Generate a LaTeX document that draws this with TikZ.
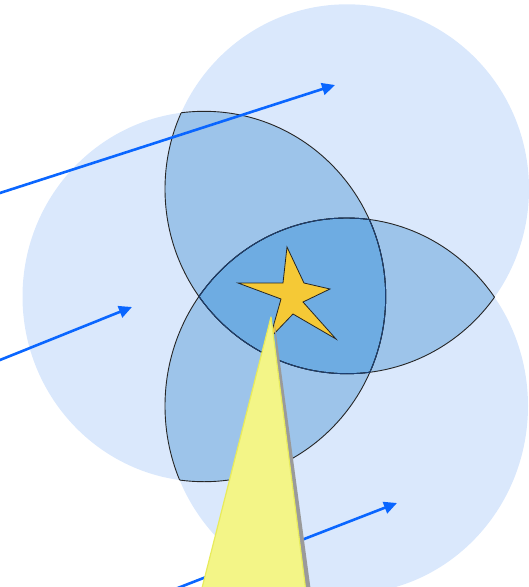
\documentclass[tikz,border=0pt]{standalone}
\usetikzlibrary{arrows.meta}
\definecolor{lightb}{HTML}{DAE8FC}
\definecolor{midb}{HTML}{9DC4EA}
\definecolor{darkb}{HTML}{6EACE2}
\definecolor{navyline}{HTML}{1B3F72}
\definecolor{arrowb}{HTML}{0A66FF}
\definecolor{stary}{HTML}{F5C936}
\definecolor{conefill}{HTML}{F3F587}
\definecolor{coneedge}{HTML}{E8EB5C}
\definecolor{shadowg}{HTML}{9A9A9A}
\begin{document}
\begin{tikzpicture}[x=1pt,y=-1pt,
  outline/.style={draw=black!85,line width=0.9pt},
  inline/.style={draw=navyline,line width=0.9pt},
  ray/.style={draw=arrowb,line width=2.6pt,-{Triangle[length=13pt,width=12pt]}},
  starstyle/.style={fill=stary,draw=black!85,line width=0.8pt,line join=miter},
  conestyle/.style={fill=conefill,draw=coneedge,line width=1.2pt,line join=round}]
\useasboundingbox (0,0) rectangle (529,587);
\clip (0,0) rectangle (529,587);
\coordinate (A) at (347,189);
\coordinate (B) at (204.1,296.5);
\coordinate (C) at (346.5,406);
\def\shA{(A) ellipse[x radius=182pt,y radius=184.7pt]}
\def\shB{(B) ellipse[x radius=181.6pt,y radius=185.2pt]}
\def\shC{(C) ellipse[x radius=181.5pt,y radius=188pt]}
% base circles
\fill[lightb] \shA;
\fill[lightb] \shB;
\fill[lightb] \shC;
% pairwise lenses
\begin{scope}
  \clip \shA;
  \fill[midb] \shB;
  \fill[midb] \shC;
\end{scope}
\begin{scope}
  \clip \shB;
  \fill[midb] \shC;
\end{scope}
% triple region
\begin{scope}
  \clip \shA;
  \clip \shB;
  \fill[darkb] \shC;
\end{scope}
% outlines
\begin{scope}
  \clip \shA;
  \draw[outline] \shB;
  \draw[outline] \shC;
\end{scope}
\begin{scope}
  \clip \shB;
  \draw[outline] \shA;
  \draw[outline] \shC;
\end{scope}
\begin{scope}
  \clip \shC;
  \draw[outline] \shA;
  \draw[outline] \shB;
\end{scope}
% outlines bounding the triple region
\begin{scope}
  \clip \shB; \clip \shC;
  \draw[inline] \shA;
\end{scope}
\begin{scope}
  \clip \shA; \clip \shC;
  \draw[inline] \shB;
\end{scope}
\begin{scope}
  \clip \shA; \clip \shB;
  \draw[inline] \shC;
\end{scope}
% arrows
\coordinate (r1s) at (-10,196.2);
\coordinate (r1e) at (335,85);
\coordinate (r2s) at (-10,364);
\coordinate (r2e) at (132,307);
\coordinate (r3s) at (170,591);
\coordinate (r3e) at (397,503);
\draw[ray] (r1s) -- (r1e);
\draw[ray] (r2s) -- (r2e);
\draw[ray] (r3s) -- (r3e);
% star
\draw[starstyle] (287,247) -- (304,283) -- (330,289) -- (303,302) -- (336,339)
  -- (293,314) -- (270,338) -- (281,299) -- (238,283) -- (283,283) -- cycle;
% cone with shadow
\fill[shadowg] (274.5,322) -- (311,592) -- (290,592) -- cycle;
\draw[conestyle] (271,317) -- (306,592) -- (201,592) -- cycle;
\end{tikzpicture}
\end{document}
